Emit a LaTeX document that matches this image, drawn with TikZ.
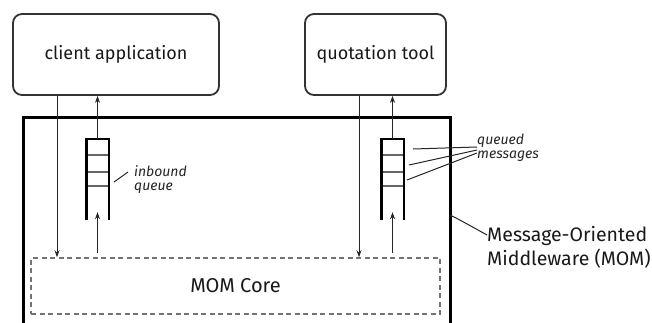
\documentclass[tikz,border=0pt]{standalone}
\usepackage{fontspec}
\setmainfont{Fira Sans}
\usetikzlibrary{arrows.meta}
\begin{document}
\begin{tikzpicture}[x=1pt,y=-1pt,
  appbox/.style={draw=black!80,line width=1.8pt,rounded corners=9pt,inner sep=0pt},
  corebox/.style={draw=black!55,line width=1.6pt,dash pattern=on 5pt off 3.5pt,inner sep=0pt},
  mombox/.style={draw=black,line width=2.6pt,inner sep=0pt},
  flow/.style={draw=black!85,line width=0.9pt,-{Stealth[length=7pt,width=5pt]}},
  qside/.style={draw=black,line width=2.4pt},
  qslot/.style={draw=black!60,line width=1.6pt},
  lead/.style={draw=black!85,line width=1pt},
  maintext/.style={font=\fontsize{18}{21}\selectfont,text=black!90},
  smalltext/.style={font=\itshape\fontsize{14}{14}\selectfont,text=black!85,align=left,inner sep=0pt},
  qnode/.style={minimum width=22pt,minimum height=81pt,inner sep=0pt}
]
\useasboundingbox (0,0) rectangle (652,322);
\clip (0,0) rectangle (652,322);
\fill[white] (0,0) rectangle (652,322);
% application boxes
\node[appbox,minimum width=206pt,minimum height=81pt,maintext] (client) at (116,54.5) {client application};
\node[appbox,minimum width=141pt,minimum height=81pt,maintext] (quote) at (375.5,54.5) {quotation tool};
% MOM outer box
\node[mombox,minimum width=427pt,minimum height=230pt,anchor=north west] (mom) at (22,116) {};
% MOM core
\node[corebox,minimum width=409pt,minimum height=56pt,maintext,font=\fontsize{20}{22}\selectfont] (core) at (235.5,286) {MOM Core};
% queues
\node[qnode] (q1) at (97.5,179.5) {};
\node[qnode] (q2) at (392.5,179.5) {};
\foreach \q in {q1,q2}{
  \draw[qslot] ([yshift=-16pt]\q.north west) -- ([yshift=-16pt]\q.north east);
  \draw[qslot] ([yshift=-33pt]\q.north west) -- ([yshift=-33pt]\q.north east);
  \draw[qslot] ([yshift=-47pt]\q.north west) -- ([yshift=-47pt]\q.north east);
  \draw[qside] (\q.south west) -- (\q.north west) -- (\q.north east) -- (\q.south east);
}
% flow arrows
\coordinate (d1) at (57,0);
\coordinate (d2) at (359,0);
\draw[flow] (client.south -| d1) -- (core.north -| d1);
\draw[flow] (quote.south -| d2) -- (core.north -| d2);
\draw[flow] (q1.north) -- (client.south -| q1.north);
\draw[flow] (q2.north) -- (quote.south -| q2.north);
\draw[flow] ([yshift=4pt]core.north -| q1.south) -- ([yshift=8pt]q1.south);
\draw[flow] ([yshift=4pt]core.north -| q2.south) -- ([yshift=8pt]q2.south);
% labels
\node[smalltext,anchor=west] (inb) at (134,180) {inbound\\queue};
\coordinate (inbA) at (128,172);
\coordinate (inbB) at (114,182);
\draw[lead] (inbB) -- (inbA);
\node[smalltext,anchor=west] (qm) at (477,148) {queued\\messages};
\coordinate (qm1) at (413,149);
\coordinate (qm2) at (409,165);
\coordinate (qm3) at (407,180);
\draw[lead] (qm1) -- ([yshift=1pt]qm.west);
\draw[lead] (qm2) -- ([yshift=-2pt]qm.west);
\draw[lead] (qm3) -- ([yshift=-5pt]qm.west);
\node[anchor=west,align=left,inner sep=0pt,text=black!90,font=\fontsize{19.5}{24}\selectfont] (momlab) at (487,247) {Message-Oriented\\Middleware (MOM)};
\coordinate (momp) at (450,215);
\draw[lead] (momp) .. controls (460,220) .. ([yshift=12pt]momlab.west);
\end{tikzpicture}
\end{document}
